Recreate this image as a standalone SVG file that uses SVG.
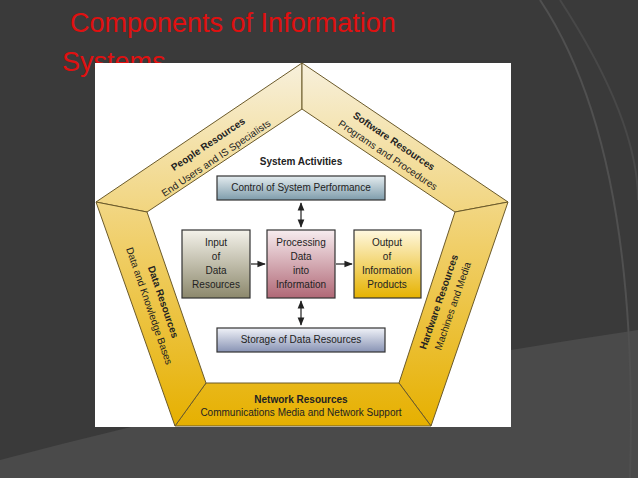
<svg xmlns="http://www.w3.org/2000/svg" width="638" height="478" viewBox="0 0 638 478">
<defs>
<linearGradient id="gold" gradientUnits="userSpaceOnUse" x1="0" y1="63" x2="0" y2="426"><stop offset="0" stop-color="#f7f0dc"/><stop offset="0.5" stop-color="#f0cf6a"/><stop offset="1" stop-color="#e6b000"/></linearGradient>
<linearGradient id="gCtl" x1="0" y1="0" x2="0" y2="1"><stop offset="0" stop-color="#e4ecef"/><stop offset="1" stop-color="#7e9cab"/></linearGradient>
<linearGradient id="gIn" x1="0" y1="0" x2="0" y2="1"><stop offset="0" stop-color="#f4f2ea"/><stop offset="1" stop-color="#8c886c"/></linearGradient>
<linearGradient id="gPr" x1="0" y1="0" x2="0" y2="1"><stop offset="0" stop-color="#f7ecef"/><stop offset="1" stop-color="#b06876"/></linearGradient>
<linearGradient id="gOut" x1="0" y1="0" x2="0" y2="1"><stop offset="0" stop-color="#fff8e0"/><stop offset="1" stop-color="#e6b200"/></linearGradient>
<linearGradient id="gSt" x1="0" y1="0" x2="0" y2="1"><stop offset="0" stop-color="#f0f2f8"/><stop offset="1" stop-color="#8893b4"/></linearGradient>
<marker id="ar" viewBox="0 0 10 10" refX="9" refY="5" markerWidth="7" markerHeight="7" orient="auto-start-reverse"><path d="M0,1 L10,5 L0,9 z" fill="#222"/></marker>
<style>
.seg{fill:url(#gold);stroke:#6b5a2a;stroke-width:1}
.bx{stroke:#333;stroke-width:1.2}
.t{font-family:"Liberation Sans",Arial,sans-serif;font-size:10px;fill:#222;text-anchor:middle}
.b{font-weight:bold}
.c{stroke:#222;stroke-width:1.2;fill:none}
</style>
</defs>
<rect width="638" height="478" fill="#3a3a3a"/>
<path d="M0,478 L0,460 Q300,380 638,330 L638,478 Z" fill="#4a4a4a"/>
<path d="M540,0 Q640,150 630,478" fill="none" stroke="#505050" stroke-width="2"/>
<path d="M560,0 Q638,120 638,200" fill="none" stroke="#484848" stroke-width="2"/>
<text x="70" y="32" font-family="Liberation Sans,Arial,sans-serif" font-size="27" fill="#e01010">Components of Information</text>
<text x="62" y="71" font-family="Liberation Sans,Arial,sans-serif" font-size="27" fill="#e01010">Systems</text>
<rect x="95" y="63" width="416" height="364" fill="#ffffff"/>
<g id="people"><polygon class="seg" points="96,202 302,63 302,109 147,212"/>
<text class="t b" transform="translate(210,147) rotate(-34)">People Resources</text>
<text class="t" transform="translate(218,161) rotate(-34)">End Users and IS Specialists</text></g>
<g id="software"><polygon class="seg" points="302,63 508,202 455,212 302,109"/>
<text class="t b" transform="translate(392,144) rotate(34)">Software Resources</text>
<text class="t" transform="translate(386,158) rotate(34)">Programs and Procedures</text></g>
<g id="hardware"><polygon class="seg" points="508,202 431,426 399,383 455,212"/>
<text class="t b" transform="translate(442,303) rotate(-71)">Hardware Resources</text>
<text class="t" transform="translate(456,307) rotate(-71)">Machines and Media</text></g>
<g id="network"><polygon class="seg" points="431,426 175,426 206,383 399,383"/>
<text class="t b" x="301" y="403">Network Resources</text>
<text class="t" x="301" y="416">Communications Media and Network Support</text></g>
<g id="data"><polygon class="seg" points="175,426 96,202 147,212 206,383"/>
<text class="t b" transform="translate(160,303) rotate(71)">Data Resources</text>
<text class="t" transform="translate(146,307) rotate(71)">Data and Knowledge Bases</text></g>
<text class="t b" x="301" y="165">System Activities</text>
<g id="control"><rect class="bx" x="217" y="176" width="168" height="24" fill="url(#gCtl)"/><text class="t" x="301" y="191">Control of System Performance</text></g>
<g id="input"><rect class="bx" x="182" y="230" width="68" height="68" fill="url(#gIn)"/>
<text class="t" x="216" y="246">Input</text><text class="t" x="216" y="260">of</text><text class="t" x="216" y="274">Data</text><text class="t" x="216" y="288">Resources</text></g>
<g id="processing"><rect class="bx" x="267" y="230" width="68" height="68" fill="url(#gPr)"/>
<text class="t" x="301" y="246">Processing</text><text class="t" x="301" y="260">Data</text><text class="t" x="301" y="274">into</text><text class="t" x="301" y="288">Information</text></g>
<g id="output"><rect class="bx" x="354" y="230" width="67" height="68" fill="url(#gOut)"/>
<text class="t" x="387" y="246">Output</text><text class="t" x="387" y="260">of</text><text class="t" x="387" y="274">Information</text><text class="t" x="387" y="288">Products</text></g>
<g id="storage"><rect class="bx" x="217" y="328" width="168" height="24" fill="url(#gSt)"/><text class="t" x="301" y="343">Storage of Data Resources</text></g>
<g id="connectors">
<line class="c" x1="301" y1="203" x2="301" y2="227" marker-start="url(#ar)" marker-end="url(#ar)"/>
<line class="c" x1="301" y1="301" x2="301" y2="325" marker-start="url(#ar)" marker-end="url(#ar)"/>
<line class="c" x1="251" y1="264" x2="265" y2="264" marker-end="url(#ar)"/>
<line class="c" x1="336" y1="264" x2="352" y2="264" marker-end="url(#ar)"/>
</g>
</svg>
